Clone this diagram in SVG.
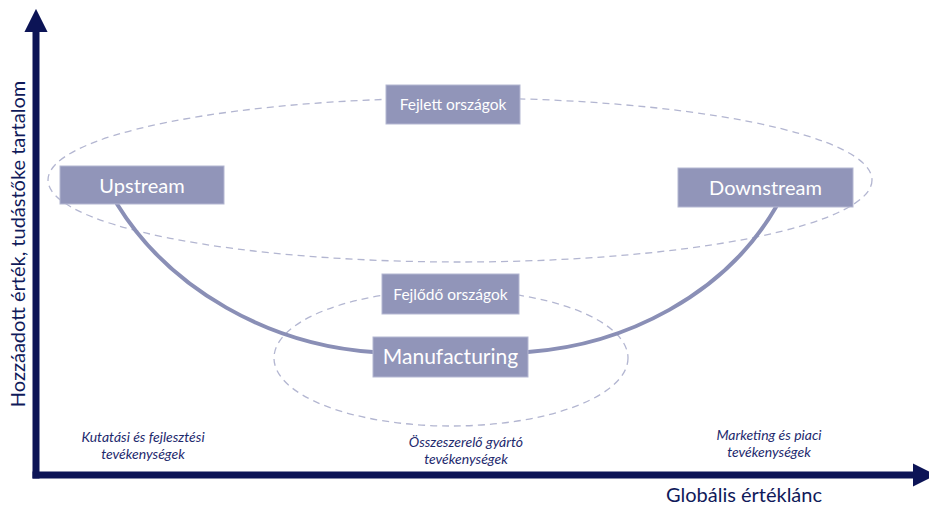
<svg xmlns="http://www.w3.org/2000/svg" width="929" height="507" viewBox="0 0 929 507">
  <style>
    .box { fill: #9195b9; stroke: #b4b7d2; stroke-width: 1; }
    .boxtxt { fill: #ffffff; font-family: Lato, "Open Sans", sans-serif; text-anchor: middle; }
    .ell { fill: none; stroke: #b3b6d1; stroke-width: 1.3; stroke-dasharray: 7 5; }
    .curve { fill: none; stroke: #8a8fb6; stroke-width: 4; stroke-linecap: round; }
    .axis { stroke: #0c1456; stroke-width: 7; fill: none; }
    .axlbl { fill: #101a5a; font-family: Lato, "Open Sans", sans-serif; font-size: 20px; }
    .note { fill: #1e2a6e; font-family: Lato, "Open Sans", sans-serif; font-size: 14px; font-style: italic; text-anchor: middle; }
  </style>
  <defs>
    <marker id="arrow" viewBox="0 0 10 10" refX="0" refY="5" markerWidth="3.3" markerHeight="3.3" markerUnits="strokeWidth" orient="auto">
      <path d="M0,0 L10,5 L0,10 Z" fill="#0c1456"/>
    </marker>
  </defs>

  <g id="ellipses">
    <ellipse class="ell" cx="460" cy="180" rx="412" ry="82"/>
    <ellipse class="ell" cx="451" cy="358" rx="177" ry="68"/>
  </g>

  <g id="connectors">
    <path class="curve" d="M117,204 C170,290 270,345 373,352 L528,352 C625,345 725,295 776,207"/>
    <path class="axis" d="M36,478.5 L36,32" marker-end="url(#arrow)"/>
    <path class="axis" d="M32.5,475 L913,475" marker-end="url(#arrow)"/>
  </g>

  <g id="upstream">
    <rect class="box" x="60" y="166" width="164" height="38"/>
    <text class="boxtxt" x="142" y="193" font-size="20">Upstream</text>
  </g>
  <g id="downstream">
    <rect class="box" x="678" y="168" width="175" height="39"/>
    <text class="boxtxt" x="765.5" y="195" font-size="20">Downstream</text>
  </g>
  <g id="fejlett">
    <rect class="box" x="386" y="85" width="134" height="39"/>
    <text class="boxtxt" x="453" y="110" font-size="15.5">Fejlett országok</text>
  </g>
  <g id="fejlodo">
    <rect class="box" x="382" y="274" width="137" height="40"/>
    <text class="boxtxt" x="450.5" y="300" font-size="15.5">Fejlődő országok</text>
  </g>
  <g id="manufacturing">
    <rect class="box" x="373" y="337" width="155" height="40"/>
    <text class="boxtxt" x="450.5" y="364" font-size="21">Manufacturing</text>
  </g>

  <g id="labels">
    <text class="axlbl" transform="translate(25,244) rotate(-90)" text-anchor="middle">Hozzáadott érték, tudástőke tartalom</text>
    <text class="axlbl" x="744" y="502" text-anchor="middle">Globális értéklánc</text>
    <text class="note" x="143" y="442">Kutatási és fejlesztési</text>
    <text class="note" x="143" y="459">tevékenységek</text>
    <text class="note" x="466" y="447">Összeszerelő gyártó</text>
    <text class="note" x="466" y="464">tevékenységek</text>
    <text class="note" x="769" y="440">Marketing és piaci</text>
    <text class="note" x="769" y="457">tevékenységek</text>
  </g>
</svg>
